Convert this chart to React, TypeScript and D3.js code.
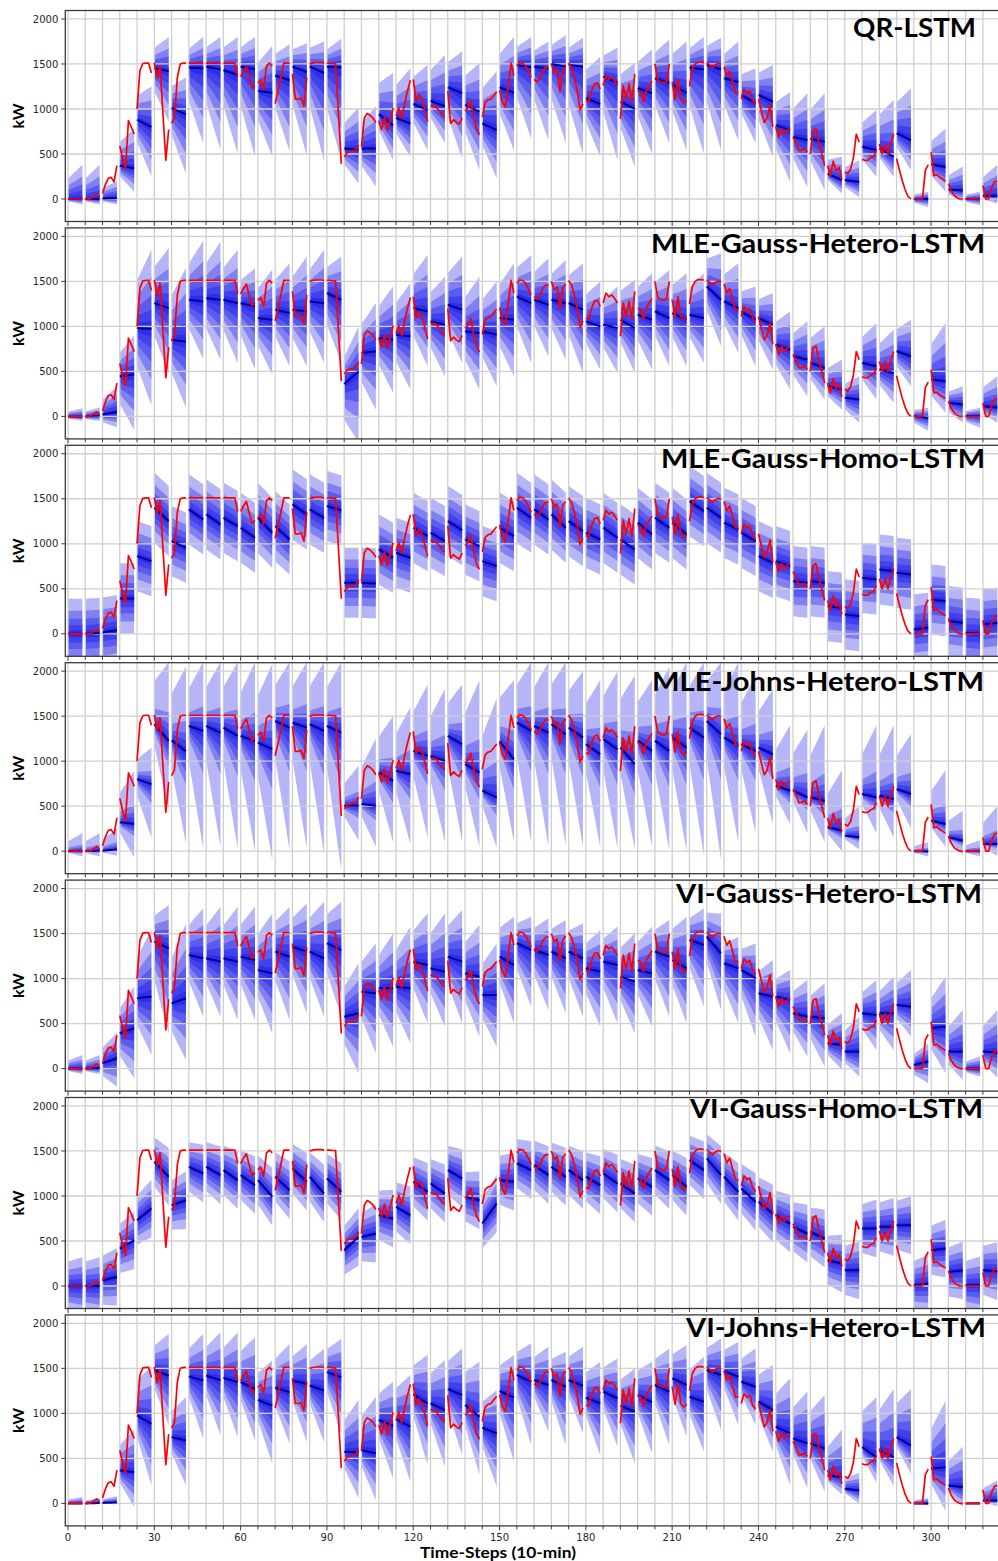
import React from 'react';
import * as d3 from 'd3';

// ---------- DATA ----------
// Observed power (kW), one value per 10-min time step (t = 0..323)
const actualKW: number[] = [
  0, 0, 0, 0, 0, 0,
  0, 0, 5, 30, 50, 20,
  60, 160, 230, 240, 190, 370,
  590, 450, 340, 870, 800, 720,
  1000, 1425, 1505, 1510, 1510, 1400,
  1515, 1340, 1480, 950, 430, 770,
  840, 900, 1350, 1500, 1510, 1510,
  1510, 1510, 1510, 1510, 1510, 1510,
  1510, 1510, 1510, 1510, 1510, 1510,
  1510, 1510, 1510, 1510, 1510, 1360,
  1360, 1420, 1470, 1340, 1230, 1260,
  1290, 1320, 1220, 1480, 1510, 1480,
  1060, 1200, 1350, 1510, 1510, 1510,
  1390, 1110, 1110, 1120, 1030, 1350,
  1500, 1510, 1515, 1515, 1515, 1510,
  1510, 1510, 1505, 1505, 950, 390,
  470, 510, 525, 530, 540, 600,
  580, 900, 950, 930, 900, 850,
  870, 770, 910, 760, 880, 1010,
  920, 1010, 900, 1060, 1200, 1320,
  1330, 1090, 1160, 1110, 990, 860,
  1040, 1030, 1020, 980, 930, 910,
  1200, 840, 880, 850, 830, 900,
  980, 1010, 1090, 910, 780, 715,
  910, 1070, 1100, 1110, 1150, 1190,
  1210, 1075, 1020, 1250, 1510, 1370,
  1480, 1515, 1510, 1480, 1420, 1350,
  1330, 1300, 1340, 1420, 1460, 1460,
  1500, 1410, 1440, 1190, 1430, 1470,
  1510, 1460, 1350, 1200, 990, 1060,
  1090, 1080, 1200, 1280, 1290, 1220,
  1260, 1370, 1330, 1350, 1310, 1260,
  890, 1260, 1110, 1280, 1080, 1390,
  1200, 1190, 1080, 1200, 1260, 1310,
  1500, 1320, 1300, 1290, 1300, 1500,
  1300, 1100, 1330, 1110, 1070, 1100,
  1250, 1440, 1500, 1520, 1520, 1515,
  1515, 1490, 1460, 1490, 1505, 1495,
  1470, 1370, 1420, 1300, 1180, 1180,
  1110, 1220, 1180, 1200, 1090, 1050,
  1110, 980, 850, 900, 1040, 800,
  800, 690, 780, 720, 760, 780,
  690, 630, 540, 540, 560, 520,
  500, 760, 780, 620, 500, 370,
  370, 260, 420, 310, 350, 220,
  300, 280, 330, 460, 720, 630,
  440, 430, 430, 460, 470, 540,
  610, 500, 610, 500, 620, 720,
  450, 320, 200, 100, 30, 0,
  0, 0, 0, 0, 320, 380,
  520, 260, 270, 240, 220, 200,
  170, 90, 40, 15, 0, 0,
  0, 0, 0, 0, 0, 0,
  150, 0, 0, 120, 190, 200,
];

const panelTitles: string[] = [
  'QR-LSTM',
  'MLE-Gauss-Hetero-LSTM',
  'MLE-Gauss-Homo-LSTM',
  'MLE-Johns-Hetero-LSTM',
  'VI-Gauss-Hetero-LSTM',
  'VI-Gauss-Homo-LSTM',
  'VI-Johns-Hetero-LSTM',
];

const xTicks: number[] = [0, 30, 60, 90, 120, 150, 180, 210, 240, 270, 300];
const yTicks: number[] = [0, 500, 1000, 1500, 2000];
const yAxisLabel = 'kW';
const xAxisLabel = 'Time-Steps (10-min)';

// Forecast per 1-hour window (6 steps): [median at start, median at end, outer lower at end, outer upper at end]
const qrLstm: number[][] = [
  [0,0,-60,380],[0,0,-60,380],[5,10,-60,200],[370,340,80,780],[880,800,250,1250],[1450,1420,860,1800],
  [1010,940,280,1350],[1460,1450,620,1800],[1470,1440,550,1800],[1430,1380,500,1800],[1470,1440,470,1800],[1200,1180,470,1700],
  [1370,1320,530,1720],[1470,1410,480,1730],[1470,1400,420,1750],[1470,1460,430,1780],[560,550,170,1020],[560,560,140,1030],
  [940,820,430,1400],[900,840,470,1450],[1055,990,540,1490],[1090,1030,620,1600],[1240,1175,450,1640],[1045,970,320,1510],
  [840,765,230,1420],[1240,1180,540,1800],[1490,1465,670,1800],[1470,1450,650,1750],[1500,1470,620,1820],[1490,1470,500,1790],
  [1120,1055,470,1580],[1360,1290,430,1680],[1080,1000,360,1510],[1230,1175,500,1660],[1340,1290,620,1770],[1270,1180,540,1750],
  [1460,1440,500,1800],[1490,1440,540,1790],[1340,1300,650,1750],[1155,1065,620,1450],[1155,1080,470,1490],[820,765,190,1190],
  [690,655,130,1175],[670,635,100,1175],[280,210,60,470],[210,190,20,430],[580,545,245,990],[560,470,245,1100],
  [730,655,320,1230],[0,0,-90,80],[385,355,80,780],[105,95,-30,360],[0,0,-70,80],[35,35,-50,380],
];

const mleGaussHetero: number[][] = [
  [0,0,-50,90],[0,10,-50,100],[20,50,-120,330],[446,465,-150,900],[982,970,120,1850],[1258,1203,480,1870],
  [850,830,100,1650],[1295,1277,640,1950],[1313,1295,630,1940],[1295,1258,590,1850],[1258,1221,520,1645],[1092,1074,465,1630],
  [1185,1148,557,1700],[1185,1166,557,1775],[1277,1258,594,1850],[1369,1295,594,1775],[360,500,-290,1000],[705,723,77,1258],
  [871,852,262,1443],[908,889,299,1480],[1203,1166,557,1793],[1055,1018,446,1553],[1240,1185,594,1775],[945,926,299,1553],
  [945,908,336,1498],[1092,1074,446,1700],[1332,1258,594,1793],[1295,1240,668,1756],[1295,1258,631,1738],[1258,1185,483,1700],
  [1055,1000,520,1498],[1018,982,483,1443],[1074,982,483,1517],[1129,1074,520,1590],[1166,1092,557,1627],[1148,1074,557,1590],
  [1129,1092,594,1590],[1443,1295,778,1812],[1277,1203,705,1700],[1166,1074,557,1443],[1092,1018,520,1369],[797,742,299,1166],
  [668,631,225,1055],[594,539,188,1000],[336,299,77,631],[207,188,-70,446],[594,557,188,1037],[520,483,151,963],
  [723,668,336,1074],[4,-15,-160,96],[410,391,41,1037],[151,133,-70,336],[4,4,-125,96],[114,100,-70,446],
];

const mleGaussHomo: number[][] = [
  [0,0,-390,390],[0,10,-380,400],[15,40,-350,430],[393,393,3,783],[863,807,417,1197],[1400,1252,862,1642],
  [1030,956,566,1346],[1382,1270,880,1660],[1326,1215,825,1605],[1289,1196,806,1586],[1178,1067,677,1457],[1289,1122,732,1512],
  [1196,1048,658,1438],[1437,1326,936,1716],[1382,1289,899,1679],[1420,1370,980,1760],[567,567,177,957],[567,560,170,950],
  [937,845,455,1235],[900,845,455,1235],[1178,1085,695,1475],[1122,1030,640,1420],[1252,1152,762,1542],[1048,974,584,1364],
  [807,752,362,1142],[1178,1085,695,1475],[1400,1289,899,1679],[1382,1270,880,1660],[1326,1178,788,1568],[1252,1141,751,1531],
  [1122,1048,658,1438],[1178,1067,677,1457],[1048,937,547,1327],[1233,1104,714,1494],[1289,1178,788,1568],[1233,1104,714,1494],
  [1474,1363,973,1753],[1400,1289,899,1679],[1233,1159,769,1549],[1122,1030,640,1420],[863,789,399,1179],[807,752,362,1142],
  [585,567,177,957],[585,567,177,957],[307,289,-101,679],[215,196,-194,586],[622,604,214,994],[715,696,306,1086],
  [678,659,269,1049],[48,67,-323,457],[381,363,-27,753],[141,122,-268,512],[11,0,-390,390],[104,122,-268,512],
];

const mleJohnsHetero: number[][] = [
  [0,0,-60,200],[0,5,-60,200],[5,20,-50,250],[321,303,-66,893],[800,745,150,1150],[1410,1225,450,2100],
  [1230,1110,80,2050],[1391,1336,26,2100],[1391,1317,44,2100],[1373,1280,26,2100],[1280,1225,-11,2100],[1207,1133,-100,2080],
  [1446,1373,7,2100],[1428,1373,26,2100],[1410,1336,-30,2100],[1391,1317,-214,2100],[505,505,120,950],[524,505,50,1250],
  [875,782,100,1500],[893,856,80,1600],[1114,1059,150,1850],[1059,1004,100,1800],[1280,1188,100,1850],[967,875,50,1900],
  [672,598,40,1700],[1220,1020,100,1900],[1428,1336,100,2100],[1391,1317,50,2100],[1410,1299,60,2100],[1373,1262,50,2000],
  [1188,1077,50,1900],[1244,1133,30,2000],[1151,967,20,1950],[1225,1114,50,1900],[1225,1114,10,2050],[1262,1151,0,2100],
  [1373,1262,-50,2100],[1446,1299,-100,2100],[1262,1170,100,2100],[1188,1114,200,1950],[1151,1077,300,1800],[727,672,300,1400],
  [672,598,200,1350],[598,561,100,1400],[266,229,0,900],[173,155,20,500],[635,598,200,1400],[616,579,150,1400],
  [690,635,250,1300],[0,0,-60,100],[339,303,50,900],[155,118,-40,450],[0,0,-60,120],[81,81,-50,500],
];

const viGaussHetero: number[][] = [
  [0,0,-60,150],[0,5,-60,150],[60,115,-200,400],[392,448,-107,910],[781,800,150,1550],[1410,1336,392,1817],
  [725,781,96,1613],[1262,1225,577,1780],[1225,1188,577,1798],[1225,1188,540,1798],[1243,1206,540,1798],[1095,1058,392,1724],
  [1299,1243,540,1798],[1354,1299,614,1835],[1299,1225,577,1854],[1391,1317,577,1854],[577,614,-52,1169],[854,836,170,1391],
  [892,892,244,1502],[910,892,281,1576],[1188,1151,503,1724],[1114,1077,466,1724],[1243,1188,503,1761],[1058,1021,355,1595],
  [818,818,244,1391],[1243,1151,503,1687],[1391,1317,688,1687],[1317,1262,651,1669],[1299,1225,614,1650],[1299,1225,577,1613],
  [1114,1077,466,1539],[1188,1151,503,1576],[1021,966,392,1502],[1095,1058,466,1576],[1299,1243,577,1650],[1206,1114,503,1687],
  [1428,1373,688,1780],[1465,1280,651,1724],[1169,1114,503,1465],[1095,1003,355,1391],[836,799,207,1206],[799,762,170,1095],
  [614,577,133,984],[577,559,22,947],[281,263,-15,614],[189,189,-89,577],[614,596,207,984],[614,614,207,1021],
  [707,688,355,1095],[41,78,-163,281],[448,466,-52,1021],[189,189,-126,651],[0,0,-89,133],[189,180,-100,650],
];

const viGaussHomo: number[][] = [
  [0,0,-320,320],[0,0,-320,320],[63,100,-220,420],[416,508,188,828],[731,861,541,1181],[1380,1213,893,1533],
  [898,953,633,1273],[1324,1250,930,1570],[1324,1232,912,1552],[1287,1176,856,1496],[1232,1120,800,1440],[1176,991,671,1311],
  [1213,1065,745,1385],[1306,1158,838,1478],[1213,1028,708,1348],[1195,1046,726,1366],[397,545,225,865],[545,582,262,902],
  [786,749,429,1069],[879,786,466,1106],[1158,1046,726,1366],[1139,1028,708,1348],[1287,1195,875,1515],[991,953,633,1273],
  [694,916,596,1236],[1176,1158,838,1478],[1362,1287,967,1607],[1343,1232,912,1552],[1324,1213,893,1533],[1287,1176,856,1496],
  [1213,1120,800,1440],[1250,1139,819,1459],[1139,1028,708,1348],[1195,1102,782,1422],[1287,1176,856,1496],[1232,1102,782,1422],
  [1399,1287,967,1607],[1417,1232,912,1552],[1213,1046,726,1366],[1083,935,615,1255],[935,805,485,1125],[786,694,374,1014],
  [657,582,262,902],[601,527,207,847],[286,249,-71,569],[174,174,-146,494],[638,638,318,958],[657,657,337,977],
  [675,675,355,995],[7,26,-294,346],[397,416,96,736],[156,174,-146,494],[7,7,-313,327],[174,165,-155,485],
];

const viJohnsHetero: number[][] = [
  [0,0,-10,70],[0,5,-10,60],[5,10,-10,80],[366,348,-40,820],[977,884,200,1530],[1476,1420,866,1883],
  [736,700,200,1180],[1410,1365,718,1883],[1420,1370,755,1900],[1395,1347,736,1900],[1347,1273,700,1846],[1150,1088,440,1587],
  [1284,1236,662,1772],[1365,1328,681,1772],[1310,1254,681,1717],[1458,1402,773,1828],[574,567,56,1148],[593,556,37,1185],
  [926,863,278,1352],[937,852,241,1426],[1211,1111,426,1648],[1111,1037,407,1593],[1270,1204,537,1722],[1093,963,315,1574],
  [841,778,185,1259],[1248,1174,463,1648],[1426,1352,648,1778],[1370,1315,796,1741],[1370,1296,648,1685],[1370,1307,778,1741],
  [1174,1111,537,1574],[1241,1167,630,1611],[1085,1019,444,1500],[1204,1122,556,1574],[1315,1241,648,1722],[1389,1315,741,1759],
  [1185,1130,574,1630],[1482,1426,815,1833],[1470,1407,870,1796],[1352,1296,870,1722],[1130,1037,574,1537],[852,778,204,1389],
  [722,667,167,1241],[667,611,130,1204],[311,292,100,820],[163,144,0,340],[625,514,230,1180],[588,514,200,1270],
  [736,644,330,1270],[0,0,-20,60],[385,403,-80,1140],[200,181,-40,630],[0,0,-10,20],[33,33,-30,255],
];

const forecasts: number[][][] = [
  qrLstm, mleGaussHetero, mleGaussHomo, mleJohnsHetero, viGaussHetero, viGaussHomo, viJohnsHetero,
];

// ---------- STYLE / LAYOUT ----------
const W = 998;
const H = 1561;
const STEPS = 6;
const PANEL_TOP0 = 10.5;
const PANEL_PITCH = 217.4;
const PANEL_H = 211;
const PLOT_LEFT = 65.3;
const PLOT_RIGHT = 1040;
const Y_DOMAIN: [number, number] = [-250, 2094];

// fan shape per panel: width at first step (upper / lower side), nested band fractions
const GAUSS_FR = [1, 0.66, 0.43, 0.25, 0.1];
const bandStyle = [
  { up: 0.6, dn: 0.45, fr: GAUSS_FR },
  { up: 0.6, dn: 0.5, fr: GAUSS_FR },
  { up: 1.0, dn: 1.0, fr: GAUSS_FR },
  { up: 0.55, dn: 0.3, fr: [1, 0.36, 0.22, 0.13, 0.05] },
  { up: 0.6, dn: 0.45, fr: GAUSS_FR },
  { up: 0.85, dn: 0.85, fr: GAUSS_FR },
  { up: 0.6, dn: 0.35, fr: GAUSS_FR },
];

// title placement: left x, width, baseline
const titlePos = [
  [853, 123, 36.7],
  [651, 334, 252.7],
  [661, 324, 468],
  [652, 332, 691.3],
  [676, 306, 902.7],
  [690, 293, 1117.7],
  [686, 300, 1337],
];

const xScale = d3.scaleLinear().domain([0, 300]).range([68, 68 + 300 * 2.877]);

const FAN_FILL = '#0000e6';
const FAN_OPACITY = 0.29;
const MEDIAN_COLOR = '#00009c';
const ACTUAL_COLOR = '#ff0000';
const GRID_COLOR = '#cfcfcf';
const FRAME_COLOR = '#3a3a3a';

function Panel({ idx }: { idx: number }) {
  const top = PANEL_TOP0 + PANEL_PITCH * idx;
  const bottom = top + PANEL_H;
  const y = d3.scaleLinear().domain(Y_DOMAIN).range([bottom, top]);
  const data = forecasts[idx];
  const style = bandStyle[idx];
  const clipId = `clip-${idx}`;

  const area = d3
    .area<{ t: number; lo: number; hi: number }>()
    .x((d) => xScale(d.t))
    .y0((d) => y(d.lo))
    .y1((d) => y(d.hi));
  const line = d3
    .line<{ t: number; v: number }>()
    .x((d) => xScale(d.t))
    .y((d) => y(d.v));

  const fans: JSX.Element[] = [];
  const medians: JSX.Element[] = [];
  const actuals: JSX.Element[] = [];

  data.forEach((seg, k) => {
    const [m0, m1, lo, hi] = seg;
    const t0 = k * STEPS;
    const hs = d3.range(STEPS);
    const pts = hs.map((h) => {
      const r = h / (STEPS - 1);
      const m = m0 + (m1 - m0) * r;
      const gu = style.up + (1 - style.up) * r;
      const gd = style.dn + (1 - style.dn) * r;
      return { t: t0 + h, m, up: (hi - m1) * gu, dn: (m1 - lo) * gd };
    });
    style.fr.forEach((f, bi) => {
      const d = area(pts.map((p) => ({ t: p.t, lo: p.m - f * p.dn, hi: p.m + f * p.up })));
      fans.push(
        <path key={`f${k}-${bi}`} d={d || ''} fill={FAN_FILL} fillOpacity={FAN_OPACITY} stroke="none" />
      );
    });
    medians.push(
      <path
        key={`m${k}`}
        d={line(pts.map((p) => ({ t: p.t, v: p.m }))) || ''}
        fill="none"
        stroke={MEDIAN_COLOR}
        strokeWidth={2}
      />
    );
    const act = hs
      .filter((h) => t0 + h < actualKW.length)
      .map((h) => ({ t: t0 + h, v: actualKW[t0 + h] }));
    if (act.length > 1) {
      actuals.push(
        <path key={`a${k}`} d={line(act) || ''} fill="none" stroke={ACTUAL_COLOR} strokeWidth={1.7} strokeLinejoin="round" />
      );
    }
  });

  const vGrid = d3.range(0, 331, STEPS);
  const isLast = idx === forecasts.length - 1;
  const [tx, tw, tb] = titlePos[idx];

  return (
    <g>
      <defs>
        <clipPath id={clipId}>
          <rect x={PLOT_LEFT} y={top} width={PLOT_RIGHT - PLOT_LEFT} height={PANEL_H} />
        </clipPath>
      </defs>
      <g clipPath={`url(#${clipId})`}>
        {fans}
        {yTicks.map((v) => (
          <line key={`hg${v}`} x1={PLOT_LEFT} x2={PLOT_RIGHT} y1={y(v)} y2={y(v)} stroke={GRID_COLOR} strokeWidth={1.3} />
        ))}
        {vGrid.map((t) => (
          <line key={`vg${t}`} x1={xScale(t)} x2={xScale(t)} y1={top} y2={bottom} stroke={GRID_COLOR} strokeWidth={1.3} />
        ))}
        {medians}
        {actuals}
      </g>
      <rect
        x={PLOT_LEFT}
        y={top}
        width={PLOT_RIGHT - PLOT_LEFT}
        height={PANEL_H}
        fill="none"
        stroke={FRAME_COLOR}
        strokeWidth={1.3}
      />
      {yTicks.map((v) => (
        <g key={`yt${v}`}>
          <line x1={PLOT_LEFT - 4} x2={PLOT_LEFT} y1={y(v)} y2={y(v)} stroke={FRAME_COLOR} strokeWidth={1} />
          <text
            x={PLOT_LEFT - 7}
            y={y(v)}
            dy="0.36em"
            textAnchor="end"
            fontFamily="DejaVu Sans"
            fontSize={10}
            fill="#262626"
          >
            {v}
          </text>
        </g>
      ))}
      {vGrid
        .filter((t) => xScale(t) < W)
        .map((t) => (
          <line
            key={`xt${t}`}
            x1={xScale(t)}
            x2={xScale(t)}
            y1={bottom}
            y2={bottom + (t % 30 === 0 ? 4.5 : 3.5)}
            stroke={FRAME_COLOR}
            strokeWidth={1}
          />
        ))}
      {isLast &&
        xTicks.map((t) => (
          <text
            key={`xl${t}`}
            x={xScale(t)}
            y={bottom + 15}
            textAnchor="middle"
            fontFamily="DejaVu Sans"
            fontSize={10}
            fill="#262626"
          >
            {t}
          </text>
        ))}
      <text
        x={18}
        y={(top + bottom) / 2}
        transform={`rotate(-90 18 ${(top + bottom) / 2})`}
        textAnchor="middle"
        dy="0.35em"
        fontFamily="Lato"
        fontWeight={700}
        fontSize={16}
        fill="#000"
      >
        {yAxisLabel}
      </text>
      <text
        x={tx}
        y={tb}
        textLength={tw}
        lengthAdjust="spacingAndGlyphs"
        fontFamily="Lato"
        fontWeight={700}
        fontSize={27}
        fill="#000"
      >
        {panelTitles[idx]}
      </text>
    </g>
  );
}

export default function App() {
  return (
    <svg
      width={W}
      height={H}
      viewBox={`0 0 ${W} ${H}`}
      style={{ position: 'absolute', left: 0, top: 0, background: '#fff', display: 'block' }}
    >
      <rect x={0} y={0} width={W} height={H} fill="#fff" />
      {panelTitles.map((_, i) => (
        <Panel key={i} idx={i} />
      ))}
      <text
        x={420}
        y={1558}
        textLength={156}
        lengthAdjust="spacingAndGlyphs"
        fontFamily="Lato"
        fontWeight={700}
        fontSize={15}
        fill="#000"
      >
        {xAxisLabel}
      </text>
    </svg>
  );
}
